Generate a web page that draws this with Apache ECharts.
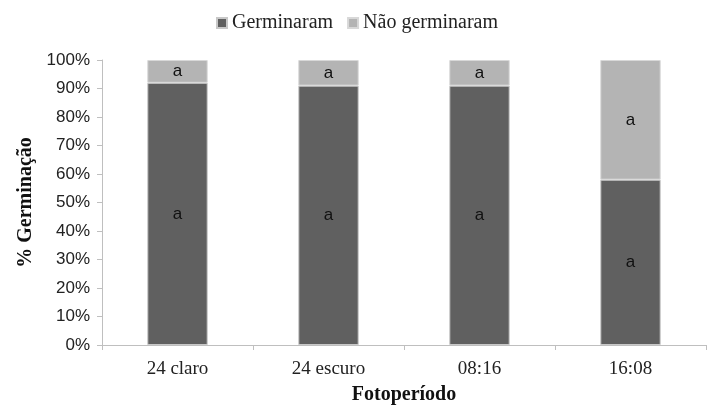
<!DOCTYPE html>
<html>
<head>
<meta charset="utf-8">
<script src="https://cdn.jsdelivr.net/npm/echarts@6/dist/echarts.min.js"></script>
<style>
html,body{margin:0;padding:0;background:#fff;}
#chart{width:714px;height:405px;}
</style>
</head>
<body>
<div id="chart"></div>
<script>
// categorias e valores (%)
var categorias = ['24 claro', '24 escuro', '08:16', '16:08'];
var germinaram = [92, 91, 91, 58];
var naoGerminaram = [8, 9, 9, 42];
var letrasG = ['a', 'a', 'a', 'a'];
var letrasN = ['a', 'a', 'a', 'a'];

var myChart = echarts.init(document.getElementById('chart'));

function rotulo(letras) {
  return {
    show: true,
    position: 'inside',
    color: '#111',
    fontFamily: 'Liberation Sans',
    fontSize: 17,
    formatter: function (p) { return letras[p.dataIndex]; }
  };
}

var option = {
  animation: false,
  legend: {
    top: 8,
    left: 'center',
    itemWidth: 10,
    itemHeight: 10,
    itemGap: 14,
    icon: 'rect',
    textStyle: { fontFamily: 'Liberation Serif', fontSize: 20, color: '#222' },
    data: ['Germinaram', 'Não germinaram']
  },
  grid: { left: 102, right: 8, top: 60, bottom: 60, containLabel: false, outerBoundsMode: 'none' },
  xAxis: {
    type: 'category',
    data: categorias,
    name: 'Fotoperíodo',
    nameLocation: 'middle',
    nameGap: 40,
    nameTextStyle: { fontFamily: 'Liberation Serif', fontSize: 20, fontWeight: 'bold', color: '#111' },
    axisLine: { lineStyle: { color: '#bfbfbf' } },
    axisTick: { show: true, length: 5, lineStyle: { color: '#bfbfbf' } },
    axisLabel: { fontFamily: 'Liberation Serif', fontSize: 19, color: '#222', margin: 15 }
  },
  yAxis: {
    type: 'value',
    min: 0,
    max: 100,
    interval: 10,
    name: '% Germinação',
    nameLocation: 'middle',
    nameGap: 66,
    nameTextStyle: { fontFamily: 'Liberation Serif', fontSize: 20, fontWeight: 'bold', color: '#111' },
    axisLine: { show: true, lineStyle: { color: '#bfbfbf' } },
    axisTick: { show: true, length: 5, lineStyle: { color: '#bfbfbf' } },
    splitLine: { show: false },
    axisLabel: {
      fontFamily: 'Liberation Sans', fontSize: 17, color: '#222', margin: 12,
      formatter: '{value}%'
    }
  },
  series: [
    {
      name: 'Germinaram',
      type: 'bar',
      stack: 'total',
      barWidth: '40%',
      itemStyle: { color: '#606060', borderColor: '#c8c8c8', borderWidth: 1 },
      label: rotulo(letrasG),
      data: germinaram
    },
    {
      name: 'Não germinaram',
      type: 'bar',
      stack: 'total',
      barWidth: '40%',
      itemStyle: { color: '#b4b4b4', borderColor: '#d8d8d8', borderWidth: 1 },
      label: rotulo(letrasN),
      data: naoGerminaram
    }
  ]
};
myChart.setOption(option);
</script>
</body>
</html>
